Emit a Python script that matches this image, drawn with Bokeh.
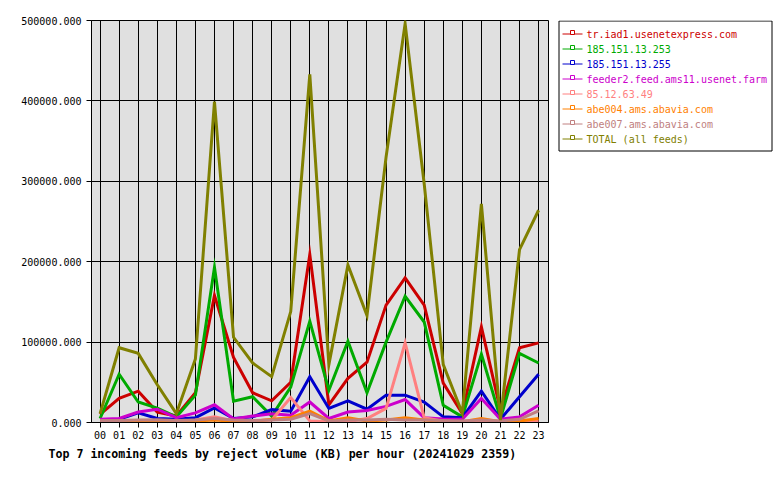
from bokeh.plotting import figure
from bokeh.layouts import row
from bokeh.models import (Range1d, FixedTicker, PrintfTickFormatter, Title, ColumnDataSource)
from bokeh.core.properties import value
from bokeh.embed import file_html
from bokeh.resources import INLINE

# ---------------- data ----------------
hours = ["00", "01", "02", "03", "04", "05", "06", "07", "08", "09", "10", "11",
         "12", "13", "14", "15", "16", "17", "18", "19", "20", "21", "22", "23"]

tr_iad1 = [10000, 30000, 39000, 13000, 8000, 37000, 158000, 81000, 37000, 27000, 50000, 209000,
           22000, 55000, 75000, 146000, 180000, 146000, 49000, 11000, 119000, 15000, 93000, 99000]
ip_253 = [5000, 60000, 25500, 18000, 7000, 34000, 193000, 26500, 32000, 8000, 44000, 126000,
          40000, 101000, 37000, 100000, 157000, 125000, 21500, 7000, 85000, 5000, 86000, 74000]
ip_255 = [2000, 4000, 12000, 5000, 4000, 6000, 18000, 5000, 7000, 16000, 14000, 57000,
          17500, 27000, 16500, 34000, 34000, 25500, 7000, 6000, 39000, 4000, 32000, 60000]
feeder2 = [4000, 5000, 13000, 16500, 6000, 12000, 22000, 4500, 8000, 11000, 9000, 25500,
           5000, 13000, 15000, 20000, 28500, 6000, 4500, 4000, 30000, 4000, 7000, 21500]
ip_85 = [2000, 2000, 2000, 2000, 1500, 3000, 7000, 2000, 2000, 3000, 31000, 2000,
         1000, 1000, 5000, 17500, 99000, 6000, 1500, 1000, 2000, 1000, 1500, 2000]
abe004 = [1000, 1000, 1000, 1000, 1000, 2000, 3000, 1500, 1500, 4000, 6000, 14000,
          2000, 6000, 2000, 3000, 6000, 3000, 1000, 1000, 5000, 1000, 2000, 5000]
abe007 = [2500, 2500, 3000, 3500, 2500, 3000, 5000, 3000, 2500, 3000, 4000, 11000,
          2000, 3000, 3000, 4000, 3000, 3000, 2500, 2000, 3000, 2000, 4000, 14500]
total = [11000, 93000, 86000, 47000, 11000, 79000, 399000, 106000, 74000, 57000, 138000, 433000,
         72000, 196000, 133000, 330000, 496000, 297000, 72000, 11500, 272000, 3000, 215000, 264000]

series_names = ["tr.iad1.usenetexpress.com", "185.151.13.253", "185.151.13.255",
                "feeder2.feed.ams11.usenet.farm", "85.12.63.49", "abe004.ams.abavia.com",
                "abe007.ams.abavia.com", "TOTAL (all feeds)"]
series_values = [tr_iad1, ip_253, ip_255, feeder2, ip_85, abe004, abe007, total]
series_colors = ["#cc0000", "#00aa00", "#0000cc", "#cc00cc", "#ff8080", "#ff8000", "#c08080", "#808000"]

title_text = "Top 7 incoming feeds by reject volume (KB) per hour (20241029 2359)"
y_ticks = [0, 100000, 200000, 300000, 400000, 500000]

MONO = "DejaVu Sans Mono"

# ---------------- main chart ----------------
p = figure(width=555, height=480, output_backend="svg", toolbar_location=None, title=None,
           x_range=Range1d(-0.45, 23.52), y_range=Range1d(0, 500000),
           min_border_left=91, min_border_right=7, min_border_top=20, min_border_bottom=58)

p.background_fill_color = "#e0e0e0"
p.border_fill_color = "white"
p.outline_line_color = "black"
p.outline_line_width = 1
p.outline_line_alpha = 1

xs = list(range(len(hours)))

p.xaxis.ticker = FixedTicker(ticks=xs)
p.xaxis.major_label_overrides = {i: h for i, h in enumerate(hours)}
p.yaxis.ticker = FixedTicker(ticks=y_ticks)
p.yaxis.formatter = PrintfTickFormatter(format="%.3f")

for ax in (p.xaxis, p.yaxis):
    ax.axis_line_color = "black"
    ax.major_tick_line_color = "black"
    ax.major_tick_in = 0
    ax.major_tick_out = 5
    ax.minor_tick_line_color = None
    ax.major_label_text_font = MONO
    ax.major_label_text_font_size = "10px"
    ax.major_label_text_color = "black"
p.xaxis.major_label_standoff = 3
p.yaxis.major_label_standoff = 5

p.xgrid.ticker = FixedTicker(ticks=xs)
p.ygrid.ticker = FixedTicker(ticks=y_ticks)
for g in (p.xgrid, p.ygrid):
    g.grid_line_color = "black"
    g.grid_line_width = 1
    g.grid_line_alpha = 1

for vals, col in zip(series_values, series_colors):
    p.line(xs, vals, line_color=col, line_width=3, line_join="miter")

title = Title(text=title_text, align="left", offset=-43, standoff=6,
              text_font=MONO, text_font_size="11.6px", text_font_style="bold",
              text_color="black")
p.add_layout(title, "below")

# ---------------- legend panel (pixel-space figure) ----------------
lg = figure(width=225, height=480, output_backend="svg", toolbar_location=None, title=None,
            x_axis_type=None, y_axis_type=None,
            x_range=Range1d(555, 780), y_range=Range1d(422, 20),
            min_border_left=0, min_border_right=0, min_border_top=20, min_border_bottom=58)
lg.outline_line_color = None
lg.background_fill_color = "white"
lg.border_fill_color = "white"
lg.xgrid.visible = False
lg.ygrid.visible = False

n = len(series_names)
row_y = [33.5 + 15 * i for i in range(n)]
leg_src = ColumnDataSource(dict(
    name=series_names, color=series_colors, y=row_y,
    gx0=[562] * n, gx1=[582] * n, mx=[572] * n, my=[y - 1.5 for y in row_y], tx=[586] * n))

lg.quad(left=[558.5], right=[771.5], top=[20.5], bottom=[150.5],
        fill_color="white", line_color="black", line_width=1)
lg.segment(x0="gx0", x1="gx1", y0="y", y1="y", line_color="color", line_width=1, source=leg_src)
lg.scatter(x="mx", y="my", marker="square", size=4, line_color="color", fill_color="white",
           line_width=1, source=leg_src)
lg.text(x="tx", y="y", text="name", text_color="color", text_font=value(MONO),
        text_font_size="10px", text_baseline="middle", text_align="left", source=leg_src)

layout = row(p, lg)
open("out.html", "w").write(file_html(layout, INLINE))
